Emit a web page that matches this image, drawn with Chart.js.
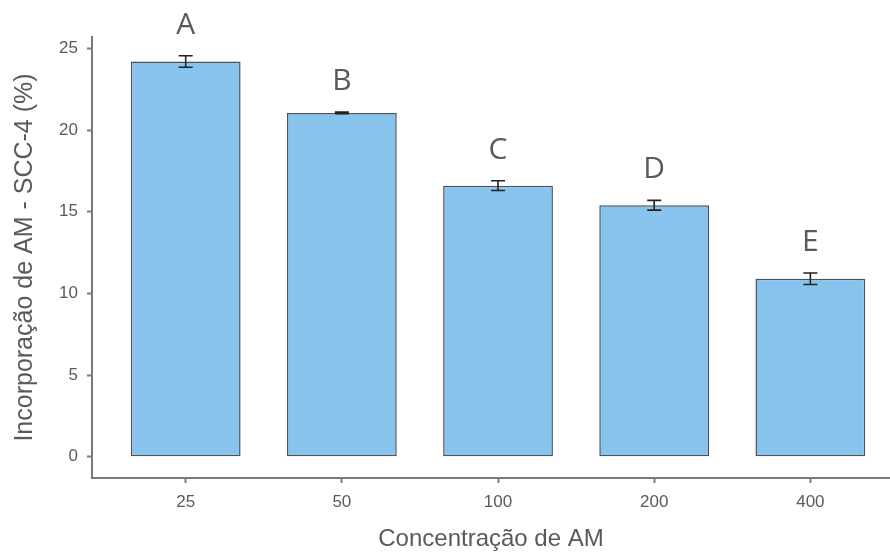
<!DOCTYPE html>
<html>
<head>
<meta charset="utf-8">
<script src="https://cdn.jsdelivr.net/npm/chart.js@4"></script>
<style>
  html, body { margin: 0; padding: 0; background: #fff; }
  #wrap { width: 890px; height: 556px; }
</style>
</head>
<body>
<div id="wrap"><canvas id="bar-chart"></canvas></div>
<script>
// data
var categories = ["25", "50", "100", "200", "400"];
var incorporacao = [24.2, 21.05, 16.6, 15.4, 10.9];
var erro = [0.35, 0.05, 0.3, 0.3, 0.35];
var letras = ["A", "B", "C", "D", "E"];
var yTicks = [0, 5, 10, 15, 20, 25];

var textColor = "#5a5a5a";
var axisColor = "#7a7a7a";

// error bars + significance letters
var extras = {
    id: "extras",
    afterDatasetsDraw: function (chart) {
        var ctx = chart.ctx;
        var x = chart.scales.x, y = chart.scales.y;
        ctx.save();
        for (var i = 0; i < incorporacao.length; i++) {
            var px = x.getPixelForValue(i + 1);
            var top = y.getPixelForValue(incorporacao[i] + erro[i]);
            var bot = y.getPixelForValue(incorporacao[i] - erro[i]);
            ctx.strokeStyle = "#222";
            ctx.lineWidth = 1.6;
            ctx.beginPath();
            ctx.moveTo(px, top); ctx.lineTo(px, bot);
            ctx.moveTo(px - 7, top); ctx.lineTo(px + 7, top);
            ctx.moveTo(px - 7, bot); ctx.lineTo(px + 7, bot);
            ctx.stroke();

            ctx.fillStyle = textColor;
            ctx.font = "30px 'Open Sans'";
            ctx.textAlign = "center";
            ctx.textBaseline = "alphabetic";
            ctx.fillText(letras[i], px, top - 22);
        }
        ctx.restore();
    }
};

new Chart(document.getElementById("bar-chart"), {
    type: 'bar',
    data: {
        datasets: [{
            label: "Incorporação",
            data: incorporacao.map(function (v, i) { return { x: i + 1, y: v }; }),
            backgroundColor: "#88c3ee",
            borderColor: "#46535d",
            borderWidth: 1.5,
            borderSkipped: false,
            categoryPercentage: 1,
            barPercentage: 0.703
        }]
    },
    options: {
        responsive: true,
        maintainAspectRatio: false,
        animation: false,
        layout: { padding: { top: 37, right: 0, left: 0, bottom: 0 } },
        plugins: {
            legend: { display: false },
            tooltip: { enabled: false }
        },
        scales: {
            x: {
                type: 'linear',
                offset: false,
                min: 0.4,
                max: 5.51,
                afterBuildTicks: function (scale) {
                    scale.ticks = categories.map(function (c, i) { return { value: i + 1 }; });
                },
                afterFit: function (scale) { scale.height = 78; },
                ticks: {
                    color: textColor,
                    font: { family: "'Liberation Sans'", size: 17 },
                    padding: 9,
                    callback: function (v) { return categories[v - 1]; }
                },
                grid: { offset: false, drawOnChartArea: false, drawTicks: true, tickLength: 5, color: axisColor, tickWidth: 2 },
                border: { color: axisColor, width: 2 },
                title: {
                    display: true,
                    text: "Concentração de AM",
                    color: textColor,
                    font: { family: "'Liberation Sans'", size: 24 },
                    padding: { top: 0, bottom: 2 }
                }
            },
            y: {
                min: -1.3,
                max: 25.7,
                afterBuildTicks: function (scale) {
                    scale.ticks = yTicks.map(function (v) { return { value: v }; });
                },
                afterFit: function (scale) { scale.width = 92; },
                ticks: {
                    color: textColor,
                    font: { family: "'Liberation Sans'", size: 17 },
                    padding: 9
                },
                grid: { drawOnChartArea: false, drawTicks: true, tickLength: 5, color: axisColor, tickWidth: 2 },
                border: { color: axisColor, width: 2 },
                title: {
                    display: true,
                    text: "Incorporação de AM - SCC-4 (%)",
                    color: textColor,
                    font: { family: "'Liberation Sans'", size: 25 },
                    padding: { top: 10, bottom: 0 }
                }
            }
        }
    },
    plugins: [extras]
});
</script>
</body>
</html>
